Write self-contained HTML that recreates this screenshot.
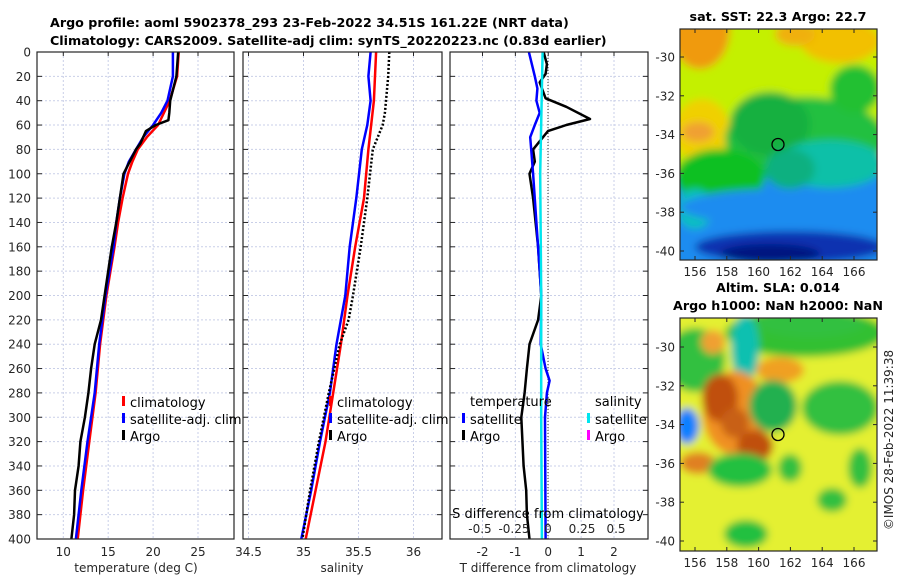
<!DOCTYPE html>
<html><head><meta charset="utf-8">
<style>
html,body{margin:0;padding:0;background:#fff;}
svg{display:block;font-family:"DejaVu Sans","Liberation Sans",sans-serif;}
.tk{font-size:12px;fill:#262626;}
.ttl{font-size:12.7px;font-weight:bold;fill:#000;}
.lg{font-size:13px;fill:#000;}
</style></head>
<body>
<svg id="fig" width="900" height="580" viewBox="0 0 900 580" xmlns="http://www.w3.org/2000/svg">
<defs>
<filter id="bl" x="-20%" y="-20%" width="140%" height="140%"><feGaussianBlur stdDeviation="4"/></filter>
<clipPath id="cm1"><rect x="680" y="29" width="197" height="231"/></clipPath>
<clipPath id="cm2"><rect x="680" y="318" width="197" height="233"/></clipPath>
</defs>
<text class="ttl" x="50" y="27">Argo profile: aoml 5902378_293 23-Feb-2022 34.51S 161.22E (NRT data)</text>
<text class="ttl" x="50" y="45">Climatology: CARS2009. Satellite-adj clim: synTS_20220223.nc (0.83d earlier)</text>
<g id="panels"></g>
<g id="maps"></g>
<text class="tk" transform="translate(893,440) rotate(-90)" text-anchor="middle">©IMOS 28-Feb-2022 11:39:38</text>
</svg>
<script>
// depth grid
const depthTicks = [0,20,40,60,80,100,120,140,160,180,200,220,240,260,280,300,320,340,360,380,400];
// temperature panel
const tTicks = [10,15,20,25];
const tDepth = [0,20,40,50,60,70,80,90,100,120,140,160,200,240,280,320,360,400];
const tClim = [22.85,22.67,21.85,21.2,20.56,19.3,18.3,17.7,17.2,16.6,16.1,15.7,14.8,14.1,13.6,12.9,12.2,11.6];
const tSat = [22.2,22.2,21.6,20.9,20.0,18.9,18.1,17.3,16.8,16.3,15.9,15.6,14.7,14.0,13.5,12.7,12.0,11.4];
const argoDepth = [0,20,40,50,56,60,65,75,80,100,120,140,160,200,220,240,260,280,300,320,340,360,380,400];
const tArgo = [22.8,22.6,21.9,21.8,21.7,20.3,19.2,18.6,18.1,16.7,16.3,15.9,15.4,14.6,14.2,13.5,13.1,12.8,12.4,11.9,11.7,11.3,11.2,10.9];
// salinity panel
const sTicks = [34.5,35,35.5,36];
const sDepth = [0,40,80,120,160,200,240,280,320,360,400];
const sClim = [35.66,35.64,35.59,35.55,35.47,35.40,35.34,35.27,35.20,35.11,35.02];
const sSatDepth = [0,20,40,60,80,120,160,200,240,280,320,360,400];
const sSat = [35.61,35.59,35.61,35.58,35.53,35.48,35.42,35.38,35.30,35.24,35.15,35.07,34.98];
const sArgoDepth = [0,20,50,60,80,120,160,200,220,240,280,320,360,400];
const sArgo = [35.78,35.77,35.74,35.72,35.63,35.58,35.52,35.45,35.41,35.33,35.23,35.14,35.06,34.99];
// difference panel
const dTicks = [-2,-1,0,1,2];
const dsTicks = [-0.5,-0.25,0,0.25,0.5];
const dsTickLabels = ["-0.5","-0.25","0","0.25","0.5"];
const dSatDepth = [0,20,30,40,50,60,70,80,100,140,180,200,240,260,270,280,300,400];
const dTSat = [-0.59,-0.41,-0.33,-0.36,-0.26,-0.41,-0.55,-0.52,-0.46,-0.36,-0.26,-0.21,-0.23,-0.08,0.04,-0.04,-0.10,-0.08];
const dArgoDepth = [0,10,18,25,38,45,55,60,65,70,80,90,100,120,160,200,220,240,260,280,300,340,360,380,400];
const dTArgo = [-0.14,-0.04,-0.08,-0.26,-0.08,0.55,1.27,0.55,-0.01,-0.16,-0.46,-0.41,-0.57,-0.46,-0.31,-0.21,-0.31,-0.57,-0.65,-0.72,-0.82,-0.75,-0.67,-0.65,-0.57];
const dSSatDepth = [0,100,200,300,400];
const dSSat = [-0.04,-0.057,-0.05,-0.05,-0.045];

const NS='http://www.w3.org/2000/svg';
const P=document.getElementById('panels');
function mk(tag,at,parent){const e=document.createElementNS(NS,tag);for(const k in at)e.setAttribute(k,at[k]);(parent||P).appendChild(e);return e;}
const Y0=52,Y1=539;
function yD(d){return Y0+(d/400)*(Y1-Y0);}
function lin(d0,d1,p0,p1){return v=>p0+(v-d0)*(p1-p0)/(d1-d0);}
const panels=[
 {x0:37,x1:234,sx:lin(10,25,63.3,198),name:'temperature'},
 {x0:243,x1:442,sx:lin(34.5,36,248.5,413.5),name:'salinity'},
 {x0:450,x1:648,sx:lin(-2,2,482.5,614),name:'difference'}];
const sxDS=lin(0,0.25,548,582);

function frame(p,ticks){
  const g=mk('g',{});
  
  
  depthTicks.forEach(d=>{mk('line',{x1:p.x0,x2:p.x1,y1:yD(d),y2:yD(d),stroke:'#c9cfe8','stroke-width':1,'stroke-dasharray':'2,2'},g);});
  ticks.forEach(v=>{const x=p.sx(v);mk('line',{x1:x,x2:x,y1:Y0,y2:Y1,stroke:'#c9cfe8','stroke-width':1,'stroke-dasharray':'2,2'},g);
    mk('line',{x1:x,x2:x,y1:Y0,y2:Y0+4,stroke:'#262626'},g);});
  depthTicks.forEach(d=>{mk('line',{x1:p.x0,x2:p.x0+5,y1:yD(d),y2:yD(d),stroke:'#262626'},g);mk('line',{x1:p.x1-5,x2:p.x1,y1:yD(d),y2:yD(d),stroke:'#262626'},g);});
  return g;
}
function line(xs,ds,sx,col,w,name,dash){
  const pts=xs.map((v,i)=>sx(v).toFixed(1)+','+yD(ds[i]).toFixed(1)).join(' ');
  const a={points:pts,fill:'none',stroke:col,'stroke-width':w,'stroke-linejoin':'round'};
  if(dash)a['stroke-dasharray']=dash;
  const e=mk('polyline',a);
  
  
}
function text(x,y,s,cls,anchor,name){const e=mk('text',{x:x,y:y,class:cls,'text-anchor':anchor||'start'});e.textContent=s;
  
  return e;}
function box(p){mk('rect',{x:p.x0,y:Y0,width:p.x1-p.x0,height:Y1-Y0,fill:'none',stroke:'#262626','stroke-width':1.2});}

// Panel 1
frame(panels[0],tTicks);
line(tClim,tDepth,panels[0].sx,'#ff0000',2.5,'temp-climatology-line');
line(tSat,tDepth,panels[0].sx,'#0000ff',2.5,'temp-satellite-line');
line(tArgo,argoDepth,panels[0].sx,'#000000',2.5,'temp-argo-line');
box(panels[0]);
depthTicks.forEach(d=>text(31,yD(d)+4.5,String(d),'tk','end','depth-tick-label'));
tTicks.forEach(v=>text(panels[0].sx(v),556,String(v),'tk','middle','temp-tick-label'));
text(136,572,'temperature (deg C)','tk','middle','temp-axis-title');
[['climatology','#ff0000',402],['satellite-adj. clim','#0000ff',419],['Argo','#000',436]].forEach(l=>{
  mk('rect',{x:122,y:l[2]-6,width:3,height:10,fill:l[1]});text(130,l[2]+5,l[0],'lg','start','legend-entry');});

// Panel 2
frame(panels[1],sTicks);
line(sClim,sDepth,panels[1].sx,'#ff0000',2.5,'sal-climatology-line');
line(sSat,sSatDepth,panels[1].sx,'#0000ff',2.5,'sal-satellite-line');
line(sArgo,sArgoDepth,panels[1].sx,'#000000',2.5,'sal-argo-line','2,2');
box(panels[1]);
sTicks.forEach(v=>text(panels[1].sx(v),556,String(v),'tk','middle','sal-tick-label'));
text(342,572,'salinity','tk','middle','sal-axis-title');
[['climatology','#ff0000',402],['satellite-adj. clim','#0000ff',419],['Argo','#000',436]].forEach(l=>{
  mk('rect',{x:329,y:l[2]-6,width:3,height:10,fill:l[1]});text(337,l[2]+5,l[0],'lg','start','legend-entry');});

// Panel 3
frame(panels[2],dTicks);
mk('line',{x1:548,x2:548,y1:Y0,y2:Y1,stroke:'#333','stroke-width':1,'stroke-dasharray':'1,2'});
line(dTArgo,dArgoDepth,panels[2].sx,'#000000',2.5,'tdiff-argo-line');
line(dTSat,dSatDepth,panels[2].sx,'#0000ff',2.5,'tdiff-satellite-line');
line(dSSat,dSSatDepth,sxDS,'#00e5ee',2.5,'sdiff-satellite-line');
box(panels[2]);
dTicks.forEach(v=>text(panels[2].sx(v),556,String(v),'tk','middle','tdiff-tick-label'));
text(548,572,'T difference from climatology','tk','middle','tdiff-axis-title');
text(548,518,'S difference from climatology','lg','middle','sdiff-axis-title');
dsTicks.forEach((v,i)=>text(sxDS(v),533,dsTickLabels[i],'tk','middle','sdiff-tick-label'));
text(470,406,'temperature','lg','start','legend-temp-header');
text(595,406,'salinity','lg','start','legend-sal-header');
[['satellite','#0000ff',419,462,470],['Argo','#000',436,462,470],['satellite','#00e5ee',419,587,595],['Argo','#ff00ff',436,587,595]].forEach(l=>{
  mk('rect',{x:l[3],y:l[2]-6,width:3,height:10,fill:l[1]});text(l[4],l[2]+5,l[0],'lg','start','legend-entry');});

// Maps
const M=document.getElementById('maps');
const lonTicks=[156,158,160,162,164,166];
const latTicks=[-30,-32,-34,-36,-38,-40];
const sst=[ // [x,y,rx,ry,color] in map-local px
 [0,0,197,231,'#c4f000','r'],
 [0,154,197,77,'#1a8cf0','r'],
 [20,0,30,40,'#f09a10'],[160,12,40,22,'#f2c000'],[115,5,20,12,'#f0b010'],
 [22,102,28,32,'#f0d000'],[18,103,16,10,'#f0a030'],
 [125,110,80,42,'#20c040'],[175,60,25,24,'#20c030'],[90,95,40,32,'#18b040'],
 [40,148,45,28,'#10c020'],[150,135,55,24,'#10c0a8'],[110,140,25,20,'#10b080'],
 [15,180,18,20,'#10c0c0'],[100,178,100,18,'#1a8cf0'],
 [110,218,95,16,'#0a30b0'],[90,225,50,10,'#001880']];
const sla=[
 [0,0,197,233,'#e4f030','r'],
 [125,15,80,24,'#30c030'],[65,30,14,34,'#10c0b0'],[15,42,20,20,'#10c0c0'],[15,42,30,32,'#30c040'],
 [7,108,12,18,'#1080ff'],[33,24,12,12,'#f0a030'],[100,52,24,13,'#f0a020'],
 [55,95,32,42,'#f09020'],[40,80,18,24,'#c05010'],[75,128,18,16,'#c05010'],[55,105,14,15,'#c86018'],
 [18,145,18,11,'#e08020'],[93,88,24,26,'#20b050'],[160,90,38,27,'#30c040'],
 [60,152,32,17,'#20c040'],[66,216,22,14,'#20c040'],[152,182,15,12,'#30c040'],[130,5,55,14,'#30c040'],
 [110,150,12,14,'#30c040'],[180,150,12,20,'#30c040']];
function drawMap(x0,y0,h,clip,blobs,lat30,name,title1,title2){
  const g=mk('g',{},M);
  
  
  const gc=mk('g',{'clip-path':'url(#'+clip+')'},g);
  const gb=mk('g',{filter:'url(#bl)'},gc);
  blobs.forEach(b=>{ if(b[5]==='r') mk('rect',{x:x0+b[0]-10,y:y0+b[1]-10,width:b[2]+20,height:b[3]+20,fill:b[4]},gb);
    else mk('ellipse',{cx:x0+b[0],cy:y0+b[1],rx:b[2],ry:b[3],fill:b[4]},gb);});
  mk('rect',{x:x0,y:y0,width:197,height:h,fill:'none',stroke:'#262626','stroke-width':1.2},g);
  const lx=lin(156,166,695,854), ly=lin(-30,-40,lat30,lat30+194);
  lonTicks.forEach(v=>{mk('line',{x1:lx(v),x2:lx(v),y1:y0+h,y2:y0+h-4,stroke:'#262626'},g);mk('line',{x1:lx(v),x2:lx(v),y1:y0,y2:y0+4,stroke:'#262626'},g);
    text(lx(v),y0+h+16,String(v),'tk','middle','lon-tick-label');});
  latTicks.forEach(v=>{mk('line',{x1:x0,x2:x0+4,y1:ly(v),y2:ly(v),stroke:'#262626'},g);mk('line',{x1:x0+197,x2:x0+193,y1:ly(v),y2:ly(v),stroke:'#262626'},g);
    text(675,ly(v)+4.5,String(v),'tk','end','lat-tick-label');});
  const c=mk('circle',{cx:lx(161.22),cy:ly(-34.51),r:6,fill:'none',stroke:'#000','stroke-width':1.3},g);
  
  
  if(title2){text(778,y0-26,title1,'ttl','middle','map-title');text(778,y0-8,title2,'ttl','middle','map-title');}
  else text(778,y0-8,title1,'ttl','middle','map-title');
}
drawMap(680,29,231,'cm1',sst,57,'sst-map','sat. SST: 22.3 Argo: 22.7');
drawMap(680,318,233,'cm2',sla,347,'sla-map','Altim. SLA: 0.014','Argo h1000: NaN h2000: NaN');
</script>
</body></html>
